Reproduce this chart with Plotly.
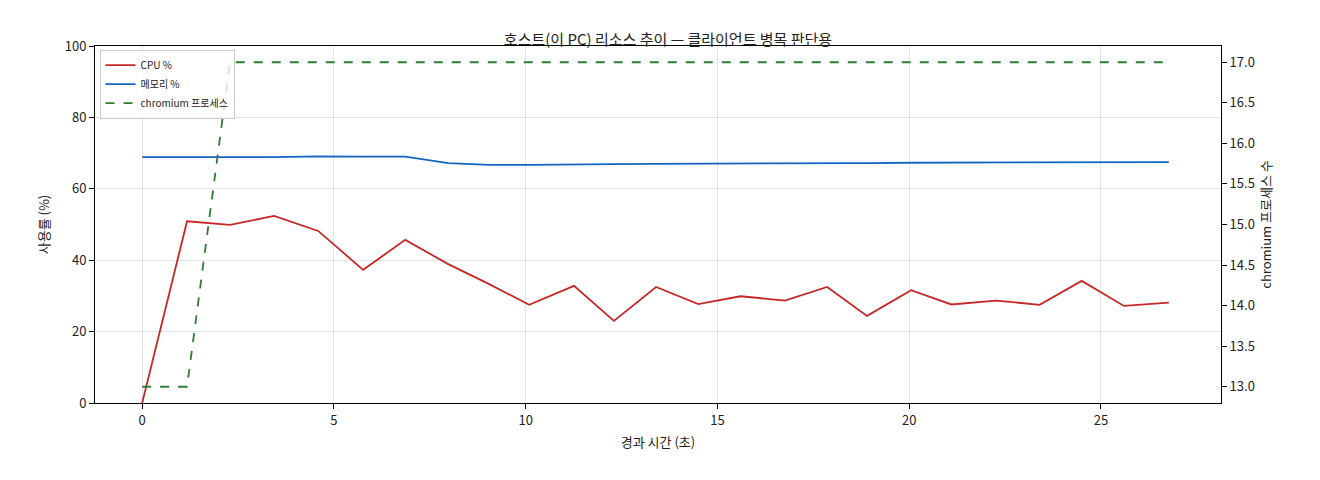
import plotly.graph_objects as go

t = [0, 1.17, 2.29, 3.44, 4.59, 5.76, 6.86, 7.98, 9.05, 10.09, 11.26, 12.3, 13.4,
     14.5, 15.6, 16.76, 17.86, 18.9, 20.05, 21.1, 22.26, 23.4, 24.5, 25.6, 26.77]
cpu = [0, 50.9, 49.9, 52.4, 48.2, 37.3, 45.7, 38.9, 33.3, 27.5, 32.8, 23.0, 32.5,
       27.7, 29.9, 28.7, 32.5, 24.4, 31.6, 27.6, 28.7, 27.5, 34.2, 27.2, 28.1]
mem = [68.9, 68.8, 68.9, 68.9, 69.1, 69.0, 69.0, 67.2, 66.7, 66.7, 66.9, 66.9, 67.0,
       67.0, 67.1, 67.1, 67.2, 67.2, 67.3, 67.3, 67.4, 67.4, 67.5, 67.5, 67.5]
chrom = [13, 13, 17, 17, 17, 17, 17, 17, 17, 17, 17, 17, 17,
         17, 17, 17, 17, 17, 17, 17, 17, 17, 17, 17, 17]

F = "Noto Sans CJK KR"
fig = go.Figure()
fig.add_trace(go.Scatter(x=t, y=cpu, name="CPU %", mode="lines", line=dict(color="#c62828", width=1.8)))
fig.add_trace(go.Scatter(x=t, y=mem, name="메모리 %", mode="lines", line=dict(color="#1565c0", width=1.8)))
fig.add_trace(go.Scatter(x=t, y=chrom, name="chromium 프로세스", mode="lines", yaxis="y2",
                         line=dict(color="#2e7d32", width=1.8, dash="dash")))
ax = dict(showline=True, linecolor="black", ticks="outside", tickcolor="black",
          gridcolor="rgba(0,0,0,0.1)", zeroline=False, tickfont=dict(size=13, color="#222"))
fig.update_layout(
    width=1320, height=480, plot_bgcolor="white", paper_bgcolor="white",
    font=dict(family=F, color="#222"),
    margin=dict(l=87, r=107, t=38, b=85),
    title=dict(text="호스트(이 PC) 리소스 추이 — 클라이언트 병목 판단용", x=0.5, xanchor="center", y=0.945, font=dict(size=15)),
    xaxis=dict(ax, range=[-1.23, 28.13], tickvals=[0, 5, 10, 15, 20, 25], mirror=True,
               title=dict(text="경과 시간 (초)", font=dict(size=13), standoff=10)),
    yaxis=dict(ax, range=[0, 100], dtick=20, title=dict(text="사용률 (%)", font=dict(size=13), standoff=12)),
    yaxis2=dict(ax, overlaying="y", side="right", range=[12.8, 17.2], dtick=0.5, tickformat=".1f",
                showgrid=False, title=dict(text="chromium 프로세스 수", font=dict(size=13), standoff=8)),
    legend=dict(x=0.004, y=0.99, xanchor="left", yanchor="top", bgcolor="rgba(255,255,255,0.8)",
                bordercolor="#ccc", borderwidth=1, font=dict(size=10)),
    showlegend=True,
)
fig.write_html("out.html")
